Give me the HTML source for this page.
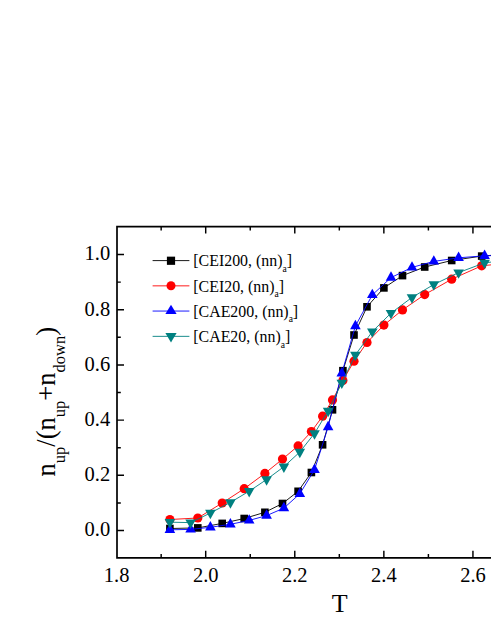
<!DOCTYPE html>
<html><head><meta charset="utf-8"><title>chart</title>
<style>
html,body{margin:0;padding:0;background:#fff;}
body{width:491px;height:635px;overflow:hidden;font-family:"Liberation Serif",serif;}
svg{display:block;}
svg text{font-family:"Liberation Serif",serif;fill:#000;}
</style></head>
<body>
<svg width="491" height="635" viewBox="0 0 491 635">
<rect width="491" height="635" fill="#fff"/>
<path d="M500 226.6L117.0 226.6L117.0 557.8L500 557.8" fill="none" stroke="#000" stroke-width="1.7" stroke-linejoin="miter"/>
<path d="M161.16 557.8v-3.8M161.16 226.6v3.8M205.70 557.8v-7.0M205.70 226.6v7.0M250.24 557.8v-3.8M250.24 226.6v3.8M294.78 557.8v-7.0M294.78 226.6v7.0M339.32 557.8v-3.8M339.32 226.6v3.8M383.86 557.8v-7.0M383.86 226.6v7.0M428.40 557.8v-3.8M428.40 226.6v3.8M472.94 557.8v-7.0M472.94 226.6v7.0M517.48 557.8v-3.8M517.48 226.6v3.8M117.0 530.50h7.0M117.0 502.90h3.8M117.0 475.30h7.0M117.0 447.70h3.8M117.0 420.10h7.0M117.0 392.50h3.8M117.0 364.90h7.0M117.0 337.30h3.8M117.0 309.70h7.0M117.0 282.10h3.8M117.0 254.50h7.0" fill="none" stroke="#000" stroke-width="1.45"/>
<g id="data">
<polyline fill="none" stroke="#000000" stroke-width="0.9" points="169.9,528.5 197.8,527.9 222.2,523.4 244.2,518.5 264.9,512.3 282.5,503.5 298.1,491.3 311.4,472.5 322.6,444.8 332.5,409.8 342.9,370.7 354.0,335.0 367.0,306.8 383.9,287.9 402.5,275.6 424.7,267.0 451.7,260.5 481.7,256.1 515.0,253.5"/>
<rect x="166.10" y="524.70" width="7.6" height="7.6" fill="#000000"/>
<rect x="194.00" y="524.10" width="7.6" height="7.6" fill="#000000"/>
<rect x="218.40" y="519.60" width="7.6" height="7.6" fill="#000000"/>
<rect x="240.40" y="514.70" width="7.6" height="7.6" fill="#000000"/>
<rect x="261.10" y="508.50" width="7.6" height="7.6" fill="#000000"/>
<rect x="278.70" y="499.70" width="7.6" height="7.6" fill="#000000"/>
<rect x="294.30" y="487.50" width="7.6" height="7.6" fill="#000000"/>
<rect x="307.60" y="468.70" width="7.6" height="7.6" fill="#000000"/>
<rect x="318.80" y="441.00" width="7.6" height="7.6" fill="#000000"/>
<rect x="328.70" y="406.00" width="7.6" height="7.6" fill="#000000"/>
<rect x="339.10" y="366.90" width="7.6" height="7.6" fill="#000000"/>
<rect x="350.20" y="331.20" width="7.6" height="7.6" fill="#000000"/>
<rect x="363.20" y="303.00" width="7.6" height="7.6" fill="#000000"/>
<rect x="380.10" y="284.10" width="7.6" height="7.6" fill="#000000"/>
<rect x="398.70" y="271.80" width="7.6" height="7.6" fill="#000000"/>
<rect x="420.90" y="263.20" width="7.6" height="7.6" fill="#000000"/>
<rect x="447.90" y="256.70" width="7.6" height="7.6" fill="#000000"/>
<rect x="477.90" y="252.30" width="7.6" height="7.6" fill="#000000"/>
<rect x="511.20" y="249.70" width="7.6" height="7.6" fill="#000000"/>
<polyline fill="none" stroke="#ff0000" stroke-width="0.9" points="169.9,519.5 197.8,518.0 222.2,503.0 244.2,488.7 264.9,473.4 282.5,459.1 298.1,445.9 311.4,431.6 322.6,416.2 332.5,399.9 342.9,380.5 354.0,361.2 367.0,342.5 383.9,325.1 402.5,309.9 424.7,294.6 451.7,279.2 481.7,265.8 515.0,262.5"/>
<circle cx="169.90" cy="519.50" r="4.6" fill="#ff0000"/>
<circle cx="197.80" cy="518.00" r="4.6" fill="#ff0000"/>
<circle cx="222.20" cy="503.00" r="4.6" fill="#ff0000"/>
<circle cx="244.20" cy="488.70" r="4.6" fill="#ff0000"/>
<circle cx="264.90" cy="473.40" r="4.6" fill="#ff0000"/>
<circle cx="282.50" cy="459.10" r="4.6" fill="#ff0000"/>
<circle cx="298.10" cy="445.90" r="4.6" fill="#ff0000"/>
<circle cx="311.40" cy="431.60" r="4.6" fill="#ff0000"/>
<circle cx="322.60" cy="416.20" r="4.6" fill="#ff0000"/>
<circle cx="332.50" cy="399.90" r="4.6" fill="#ff0000"/>
<circle cx="342.90" cy="380.50" r="4.6" fill="#ff0000"/>
<circle cx="354.00" cy="361.20" r="4.6" fill="#ff0000"/>
<circle cx="367.00" cy="342.50" r="4.6" fill="#ff0000"/>
<circle cx="383.90" cy="325.10" r="4.6" fill="#ff0000"/>
<circle cx="402.50" cy="309.90" r="4.6" fill="#ff0000"/>
<circle cx="424.70" cy="294.60" r="4.6" fill="#ff0000"/>
<circle cx="451.70" cy="279.20" r="4.6" fill="#ff0000"/>
<circle cx="481.70" cy="265.80" r="4.6" fill="#ff0000"/>
<circle cx="515.00" cy="262.50" r="4.6" fill="#ff0000"/>
<polyline fill="none" stroke="#0000ff" stroke-width="0.9" points="169.9,529.8 190.6,529.4 210.4,527.3 230.4,524.3 249.2,520.4 266.6,515.6 283.9,508.1 299.8,493.8 314.5,469.8 328.1,427.0 341.8,373.3 355.4,326.0 372.3,294.9 391.0,277.6 412.0,267.4 433.8,261.4 458.6,257.8 484.6,255.8 520.0,254.9"/>
<path d="M164.60 532.93L175.20 532.93L169.90 523.53Z" fill="#0000ff"/>
<path d="M185.30 532.53L195.90 532.53L190.60 523.13Z" fill="#0000ff"/>
<path d="M205.10 530.43L215.70 530.43L210.40 521.03Z" fill="#0000ff"/>
<path d="M225.10 527.43L235.70 527.43L230.40 518.03Z" fill="#0000ff"/>
<path d="M243.90 523.53L254.50 523.53L249.20 514.13Z" fill="#0000ff"/>
<path d="M261.30 518.73L271.90 518.73L266.60 509.33Z" fill="#0000ff"/>
<path d="M278.60 511.23L289.20 511.23L283.90 501.83Z" fill="#0000ff"/>
<path d="M294.50 496.93L305.10 496.93L299.80 487.53Z" fill="#0000ff"/>
<path d="M309.20 472.93L319.80 472.93L314.50 463.53Z" fill="#0000ff"/>
<path d="M322.80 430.13L333.40 430.13L328.10 420.73Z" fill="#0000ff"/>
<path d="M336.50 376.43L347.10 376.43L341.80 367.03Z" fill="#0000ff"/>
<path d="M350.10 329.13L360.70 329.13L355.40 319.73Z" fill="#0000ff"/>
<path d="M367.00 298.03L377.60 298.03L372.30 288.63Z" fill="#0000ff"/>
<path d="M385.70 280.73L396.30 280.73L391.00 271.33Z" fill="#0000ff"/>
<path d="M406.70 270.53L417.30 270.53L412.00 261.13Z" fill="#0000ff"/>
<path d="M428.50 264.53L439.10 264.53L433.80 255.13Z" fill="#0000ff"/>
<path d="M453.30 260.93L463.90 260.93L458.60 251.53Z" fill="#0000ff"/>
<path d="M479.30 258.93L489.90 258.93L484.60 249.53Z" fill="#0000ff"/>
<path d="M514.70 258.03L525.30 258.03L520.00 248.63Z" fill="#0000ff"/>
<polyline fill="none" stroke="#008080" stroke-width="0.9" points="169.9,522.2 190.6,522.6 210.4,513.0 230.4,502.4 249.2,491.2 266.6,479.5 283.9,466.7 299.8,452.0 314.5,433.4 328.1,410.9 341.8,382.8 355.4,354.9 372.3,331.6 391.0,313.1 412.0,297.4 433.8,284.5 458.6,272.6 484.6,262.8 520.0,258.9"/>
<path d="M164.60 519.07L175.20 519.07L169.90 528.47Z" fill="#008080"/>
<path d="M185.30 519.47L195.90 519.47L190.60 528.87Z" fill="#008080"/>
<path d="M205.10 509.87L215.70 509.87L210.40 519.27Z" fill="#008080"/>
<path d="M225.10 499.27L235.70 499.27L230.40 508.67Z" fill="#008080"/>
<path d="M243.90 488.07L254.50 488.07L249.20 497.47Z" fill="#008080"/>
<path d="M261.30 476.37L271.90 476.37L266.60 485.77Z" fill="#008080"/>
<path d="M278.60 463.57L289.20 463.57L283.90 472.97Z" fill="#008080"/>
<path d="M294.50 448.87L305.10 448.87L299.80 458.27Z" fill="#008080"/>
<path d="M309.20 430.27L319.80 430.27L314.50 439.67Z" fill="#008080"/>
<path d="M322.80 407.77L333.40 407.77L328.10 417.17Z" fill="#008080"/>
<path d="M336.50 379.67L347.10 379.67L341.80 389.07Z" fill="#008080"/>
<path d="M350.10 351.77L360.70 351.77L355.40 361.17Z" fill="#008080"/>
<path d="M367.00 328.47L377.60 328.47L372.30 337.87Z" fill="#008080"/>
<path d="M385.70 309.97L396.30 309.97L391.00 319.37Z" fill="#008080"/>
<path d="M406.70 294.27L417.30 294.27L412.00 303.67Z" fill="#008080"/>
<path d="M428.50 281.37L439.10 281.37L433.80 290.77Z" fill="#008080"/>
<path d="M453.30 269.47L463.90 269.47L458.60 278.87Z" fill="#008080"/>
<path d="M479.30 259.67L489.90 259.67L484.60 269.07Z" fill="#008080"/>
<path d="M514.70 255.77L525.30 255.77L520.00 265.17Z" fill="#008080"/>
</g>
<text x="116.62" y="581.5" text-anchor="middle" font-size="20.5">1.8</text>
<text x="205.70" y="581.5" text-anchor="middle" font-size="20.5">2.0</text>
<text x="294.78" y="581.5" text-anchor="middle" font-size="20.5">2.2</text>
<text x="383.86" y="581.5" text-anchor="middle" font-size="20.5">2.4</text>
<text x="472.94" y="581.5" text-anchor="middle" font-size="20.5">2.6</text>
<text x="110.2" y="536.40" text-anchor="end" font-size="20.5">0.0</text>
<text x="110.2" y="481.20" text-anchor="end" font-size="20.5">0.2</text>
<text x="110.2" y="426.00" text-anchor="end" font-size="20.5">0.4</text>
<text x="110.2" y="370.80" text-anchor="end" font-size="20.5">0.6</text>
<text x="110.2" y="315.60" text-anchor="end" font-size="20.5">0.8</text>
<text x="110.2" y="260.40" text-anchor="end" font-size="20.5">1.0</text>
<text x="339.6" y="612.2" text-anchor="middle" font-size="26">T</text>
<text transform="translate(54.9,476.4) rotate(-90)" font-size="26.5">n<tspan font-size="16.5" dy="10">up</tspan><tspan dy="-10">/(n</tspan><tspan font-size="16.5" dy="10">up</tspan><tspan dy="-10">+n</tspan><tspan font-size="16.5" dy="10">down</tspan><tspan dy="-10">)</tspan></text>
<line x1="152.6" y1="260.59999999999997" x2="189.4" y2="260.59999999999997" stroke="#000000" stroke-width="0.9"/>
<line x1="152.6" y1="285.84999999999997" x2="189.4" y2="285.84999999999997" stroke="#ff0000" stroke-width="0.9"/>
<line x1="152.6" y1="311.04999999999995" x2="189.4" y2="311.04999999999995" stroke="#0000ff" stroke-width="0.9"/>
<line x1="152.6" y1="336.34999999999997" x2="189.4" y2="336.34999999999997" stroke="#008080" stroke-width="0.9"/>
<rect x="166.90" y="256.65" width="8.2" height="8.2" fill="#000000"/>
<circle cx="171.00" cy="285.70" r="4.5" fill="#ff0000"/>
<path d="M165.40 314.03L176.60 314.03L171.00 304.63Z" fill="#0000ff"/>
<path d="M165.40 333.07L176.60 333.07L171.00 342.47Z" fill="#008080"/>
<text x="193.3" y="266.35" font-size="15.9">[CEI200, (nn)<tspan font-size="9.5" dy="5.6">a</tspan><tspan dy="-5.6">]</tspan></text>
<text x="193.3" y="291.60" font-size="15.9">[CEI20, (nn)<tspan font-size="9.5" dy="5.6">a</tspan><tspan dy="-5.6">]</tspan></text>
<text x="193.3" y="316.80" font-size="15.9">[CAE200, (nn)<tspan font-size="9.5" dy="5.6">a</tspan><tspan dy="-5.6">]</tspan></text>
<text x="193.3" y="342.10" font-size="15.9">[CAE20, (nn)<tspan font-size="9.5" dy="5.6">a</tspan><tspan dy="-5.6">]</tspan></text>
</svg>
</body></html>
